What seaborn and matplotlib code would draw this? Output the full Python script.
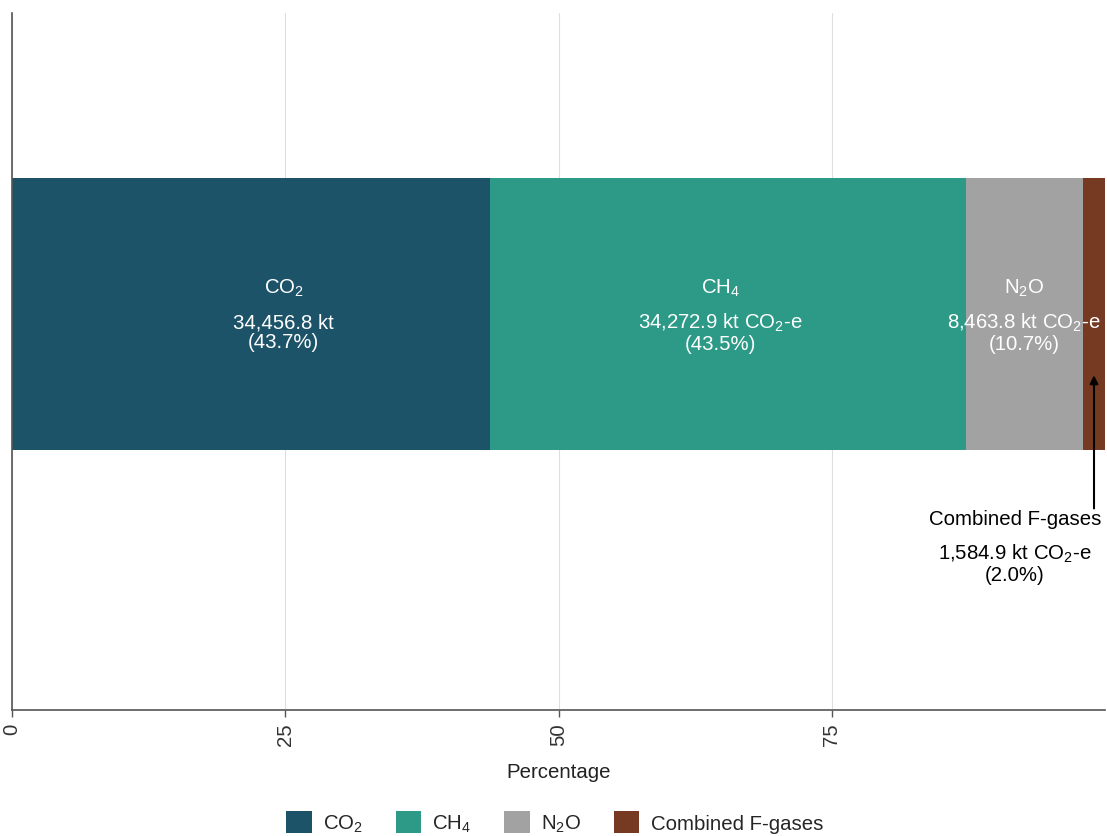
import numpy as np
import pandas as pd
import matplotlib
matplotlib.use('Agg')
import matplotlib.pyplot as plt
import seaborn as sns
from matplotlib.patches import Patch

# data
gases = ['CO$_2$', 'CH$_4$', 'N$_2$O', 'Combined F-gases']
emissions_kt = [34456.8, 34272.9, 8463.8, 1584.9]
units = ['kt', 'kt CO$_2$-e', 'kt CO$_2$-e', 'kt CO$_2$-e']
colours = ['#1D5368', '#2C9A86', '#A2A2A2', '#763A23']
x_ticks = [0, 25, 50, 75]

sns.set_theme(style='white')
plt.rcParams['font.family'] = ['Liberation Sans', 'DejaVu Sans']
plt.rcParams['mathtext.fontset'] = 'custom'
plt.rcParams['mathtext.rm'] = 'Liberation Sans'
plt.rcParams['mathtext.it'] = 'Liberation Sans'
plt.rcParams['mathtext.default'] = 'regular'
FS = 14.7

total = sum(emissions_kt)
pct = [v / total * 100 for v in emissions_kt]
df = pd.DataFrame({'gas': gases, 'value': emissions_kt, 'pct': pct})
df['cum'] = df['pct'].cumsum()
df['left'] = df['cum'] - df['pct']
df['row'] = 'All'

fig = plt.figure(figsize=(11.07, 8.37), dpi=100)
ax = fig.add_axes([12 / 1107, 1 - 711 / 837, (1105 - 12) / 1107, (711 - 14) / 837])

# stacked bar: draw cumulative totals, largest first
for i in reversed(range(len(df))):
    sns.barplot(data=df.iloc[[i]], x='cum', y='row', orient='h', color=colours[i],
                width=1.0, saturation=1, linewidth=0, ax=ax, zorder=2)

ax.set_ylim(1.456, -1.107)
ax.set_xlim(0, 100)
ax.set_xticks(x_ticks)
ax.set_xticklabels([str(t) for t in x_ticks], rotation=90, fontsize=FS, color='#333333')
ax.set_yticks([])
ax.set_ylabel('')
ax.set_xlabel('Percentage', fontsize=FS, labelpad=12, color='#222222')
ax.grid(axis='x', color='#dedede', linewidth=0.8, zorder=0)
ax.set_axisbelow(True)
for s in ['top', 'right']:
    ax.spines[s].set_visible(False)
for s in ['left', 'bottom']:
    ax.spines[s].set_color('#555555')
    ax.spines[s].set_linewidth(1.2)
ax.tick_params(axis='x', bottom=True, length=5, color='#555555', width=1.0, pad=4)

# labels inside the bars (nudged a little, as in the original)
nudge = [3.0, -0.65, 0.0]
for i in range(3):
    xc = df['left'][i] + df['pct'][i] / 2 + nudge[i]
    ax.text(xc, -0.097, gases[i], ha='center', va='center', color='white', fontsize=FS)
    ax.text(xc, 0.066, f"{emissions_kt[i]:,.1f} {units[i]}\n({pct[i]:.1f}%)",
            ha='center', va='center', color='white', fontsize=FS, linespacing=1.05)

# annotation for the small F-gases slice
xf = df['left'][3] + df['pct'][3] / 2
xt = 91.77
ax.annotate('', xy=(xf, 0.215), xytext=(xf, 0.725),
            arrowprops=dict(arrowstyle='-|>', color='black', lw=1.5, mutation_scale=12))
ax.text(xt, 0.752, gases[3], ha='center', va='center', fontsize=FS, color='black')
ax.text(xt, 0.915, f"{emissions_kt[3]:,.1f} {units[3]}\n({pct[3]:.1f}%)",
        ha='center', va='center', fontsize=FS, color='black', linespacing=1.05)

handles = [Patch(facecolor=c, edgecolor='none') for c in colours]
fig.legend(handles, gases, loc='lower center', bbox_to_anchor=(0.501, -0.02), ncol=4,
           frameon=False, fontsize=FS, handlelength=1.25, handleheight=1.25,
           columnspacing=1.6, handletextpad=0.55)

fig.savefig('out.png', dpi=100)
